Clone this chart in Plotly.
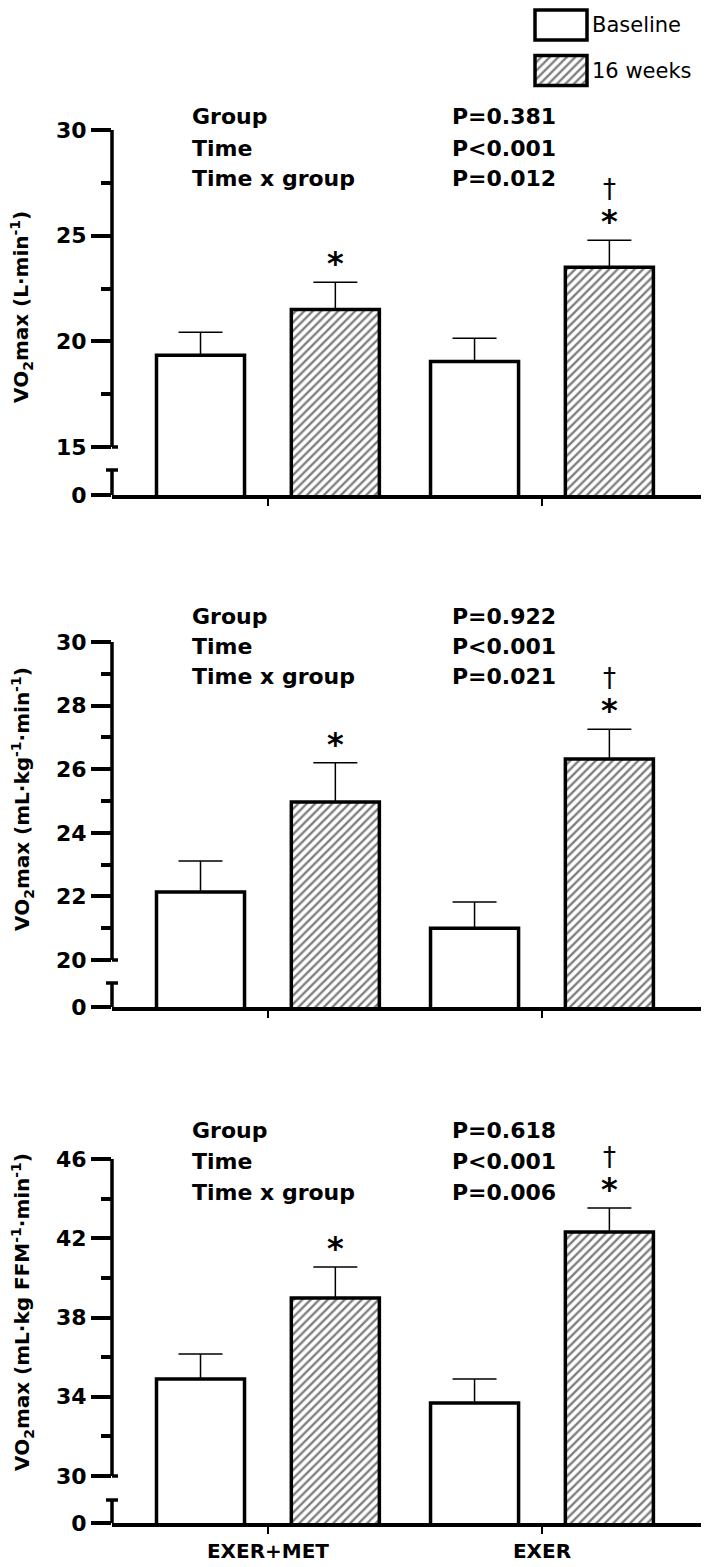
import plotly.graph_objects as go

# ---------------- data ----------------
groups = ["EXER+MET", "EXER"]
series = ["Baseline", "16 weeks"]

# Panel 1: VO2max (L·min-1)
abs_baseline = [19.34, 19.05]
abs_baseline_sd = [1.09, 1.09]
abs_week16 = [21.51, 23.50]
abs_week16_sd = [1.28, 1.28]

# Panel 2: VO2max (mL·kg-1·min-1)
rel_baseline = [22.14, 21.00]
rel_baseline_sd = [0.97, 0.82]
rel_week16 = [24.97, 26.32]
rel_week16_sd = [1.23, 0.94]

# Panel 3: VO2max (mL·kg FFM-1·min-1)
ffm_baseline = [34.90, 33.69]
ffm_baseline_sd = [1.26, 1.21]
ffm_week16 = [38.99, 42.32]
ffm_week16_sd = [1.56, 1.21]

stat_labels = ["Group", "Time", "Time x group"]
p_abs = ["P=0.381", "P<0.001", "P=0.012"]
p_rel = ["P=0.922", "P<0.001", "P=0.021"]
p_ffm = ["P=0.618", "P<0.001", "P=0.006"]

# significance marks on "16 weeks" bars per group
sig_star = [True, True]
sig_dagger = [False, True]

titles = [
    "VO<sub>2</sub>max (L·min<sup>-1</sup>)",
    "VO<sub>2</sub>max (mL·kg<sup>-1</sup>·min<sup>-1</sup>)",
    "VO<sub>2</sub>max (mL·kg FFM<sup>-1</sup>·min<sup>-1</sup>)",
]

# axis tick structure per panel
major_ticks = [[20, 25, 30], [22, 24, 26, 28, 30], [34, 38, 42, 46]]
minor_ticks = [[17.5, 22.5, 27.5], [21, 23, 25, 27, 29], [32, 36, 40, 44]]
break_vals = [15, 20, 30]

# ---------------- layout geometry (pixels of the page) ----------------
OFF = 8                      # page body margin offset
W, H = 709 - OFF, 1567 - OFF
ML, MR = 112 - OFF, 7
PW = W - ML - MR
FONT = "DejaVu Sans"

def px_x(px):
    return (px - OFF - ML) / PW

def px_y(py):
    return 1 - (py - OFF) / H

# panel pixel geometry: top-of-axis pixel, break pixel, stub-top pixel, zero pixel
panel_px = [
    dict(top=130, brk=447, stub=470, zero=495),
    dict(top=642, brk=960, stub=983, zero=1007),
    dict(top=1159, brk=1476, stub=1500, zero=1523),
]
axis_top_vals = [30, 30, 46]

panels = [
    (abs_baseline, abs_baseline_sd, abs_week16, abs_week16_sd, p_abs),
    (rel_baseline, rel_baseline_sd, rel_week16, rel_week16_sd, p_rel),
    (ffm_baseline, ffm_baseline_sd, ffm_week16, ffm_week16_sd, p_ffm),
]

stat_rows_px = [[117, 148, 178], [616, 647, 677], [1130, 1161, 1192]]
title_center_px = [307, 799, 1312]

fig = go.Figure()
shapes = []
annotations = []
layout_axes = {}

bar_line = dict(color="black", width=3.5)
hatch = dict(shape="/", fgcolor="black", bgcolor="white", size=6, solidity=0.4)
err_common = dict(type="data", symmetric=False, color="black", thickness=1.5, width=22)
axis_line = dict(color="black", width=3.5)

for i, (bv, bsd, wv, wsd, pv) in enumerate(panels):
    n = i + 1
    xa = "x" if n == 1 else f"x{n}"
    ya = "y" if n == 1 else f"y{n}"
    g = panel_px[i]
    top_v = axis_top_vals[i]
    brk_v = break_vals[i]
    scale = (g["brk"] - g["top"]) / (top_v - brk_v)  # px per unit
    r0 = brk_v - (g["zero"] - g["brk"]) / scale
    stub_v = brk_v - (g["stub"] - g["brk"]) / scale

    fig.add_trace(go.Bar(
        x=groups, y=bv, name=series[0], xaxis=xa, yaxis=ya, showlegend=False,
        marker=dict(color="white", line=bar_line),
        error_y=dict(array=bsd, arrayminus=[0] * len(bsd), **err_common),
    ))
    fig.add_trace(go.Bar(
        x=groups, y=wv, name=series[1], xaxis=xa, yaxis=ya, showlegend=False,
        marker=dict(color="white", pattern=hatch, line=bar_line),
        error_y=dict(array=wsd, arrayminus=[0] * len(wsd), **err_common),
    ))

    dom = [px_y(g["zero"]), px_y(g["top"])]
    tv = [r0, brk_v] + major_ticks[i]
    tt = ["0", str(brk_v)] + [str(v) for v in major_ticks[i]]
    layout_axes["xaxis" if n == 1 else f"xaxis{n}"] = dict(
        domain=[0, 1], anchor=ya, range=[-0.569, 1.584],
        showline=True, linewidth=3.5, linecolor="black",
        ticks="outside", ticklen=7, tickwidth=2, tickcolor="black",
        showgrid=False, zeroline=False,
        showticklabels=(n == 3),
        tickfont=dict(family=FONT, size=20, color="black", weight="bold"),
    )
    layout_axes["yaxis" if n == 1 else f"yaxis{n}"] = dict(
        domain=dom, anchor=xa, range=[r0, top_v],
        showline=False, showgrid=False, zeroline=False,
        ticks="outside", ticklen=20, tickwidth=3.5, tickcolor="black",
        tickvals=tv, ticktext=tt,
        tickfont=dict(family=FONT, size=22, color="black", weight="bold"),
        minor=dict(tickvals=minor_ticks[i], ticks="outside", ticklen=10,
                   tickwidth=3.5, tickcolor="black", showgrid=False),
    )

    # broken y-axis line segments and break caps
    shapes.append(dict(type="line", xref="paper", yref=ya, x0=0, x1=0,
                       y0=brk_v, y1=top_v, line=axis_line))
    shapes.append(dict(type="line", xref="paper", yref=ya, x0=0, x1=0,
                       y0=r0, y1=stub_v, line=axis_line))
    shapes.append(dict(type="line", xref="paper", yref=ya, x0=0, x1=px_x(118),
                       y0=brk_v, y1=brk_v, line=axis_line))
    shapes.append(dict(type="line", xref="paper", yref=ya, x0=px_x(106), x1=px_x(118),
                       y0=stub_v, y1=stub_v, line=axis_line))

    # statistics text
    for k, lab in enumerate(stat_labels):
        annotations.append(dict(xref="paper", yref="paper", x=px_x(190), y=px_y(stat_rows_px[i][k]),
                                xanchor="left", yanchor="middle", text=lab, showarrow=False,
                                font=dict(family=FONT, size=22, color="black", weight="bold")))
        annotations.append(dict(xref="paper", yref="paper", x=px_x(450), y=px_y(stat_rows_px[i][k]),
                                xanchor="left", yanchor="middle", text=pv[k], showarrow=False,
                                font=dict(family=FONT, size=22, color="black", weight="bold")))

    # y title
    annotations.append(dict(xref="paper", yref="paper", x=px_x(22), y=px_y(title_center_px[i]),
                            xanchor="center", yanchor="middle", textangle=-90, text=titles[i],
                            showarrow=False,
                            font=dict(family=FONT, size=20, color="black", weight="bold")))

    # significance symbols above 16-week bars
    for gi in range(len(groups)):
        ytop = wv[gi] + wsd[gi]
        if sig_star[gi]:
            annotations.append(dict(xref=xa, yref=ya, x=gi + 0.246, y=ytop, yanchor="middle",
                                    yshift=19, text="*", showarrow=False,
                                    font=dict(family=FONT, size=32, color="black", weight="bold")))
        if sig_dagger[gi]:
            annotations.append(dict(xref=xa, yref=ya, x=gi + 0.246, y=ytop, yanchor="middle",
                                    yshift=51, text="†", showarrow=False,
                                    font=dict(family=FONT, size=26, color="black")))

# ---------------- legend drawn as small bar swatches ----------------
legend_order = ["16 weeks", "Baseline"]
fig.add_trace(go.Bar(
    y=legend_order, x=[1, 1], orientation="h", xaxis="x4", yaxis="y7",
    width=0.66, showlegend=False, hoverinfo="skip",
    marker=dict(color="white", line=bar_line,
                pattern=dict(shape=["/", ""], fgcolor="black", bgcolor="white", size=6, solidity=0.4)),
))
layout_axes["xaxis4"] = dict(domain=[px_x(531), px_x(591)], anchor="y7", range=[-0.077, 1.077],
                             visible=False, fixedrange=True)
layout_axes["yaxis7"] = dict(domain=[px_y(94), 1], anchor="x4", range=[-0.516, 1.374],
                             type="category", side="right", showline=False, showgrid=False,
                             zeroline=False, ticks="",
                             tickfont=dict(family=FONT, size=21, color="black"))

fig.update_layout(
    width=W, height=H,
    margin=dict(l=ML, r=MR, t=0, b=0, autoexpand=False),
    barmode="group", bargap=0.016, bargroupgap=0.347,
    plot_bgcolor="white", paper_bgcolor="white",
    showlegend=False,
    font=dict(family=FONT, color="black"),
    shapes=shapes, annotations=annotations,
    **layout_axes,
)

fig.write_html("out.html")
